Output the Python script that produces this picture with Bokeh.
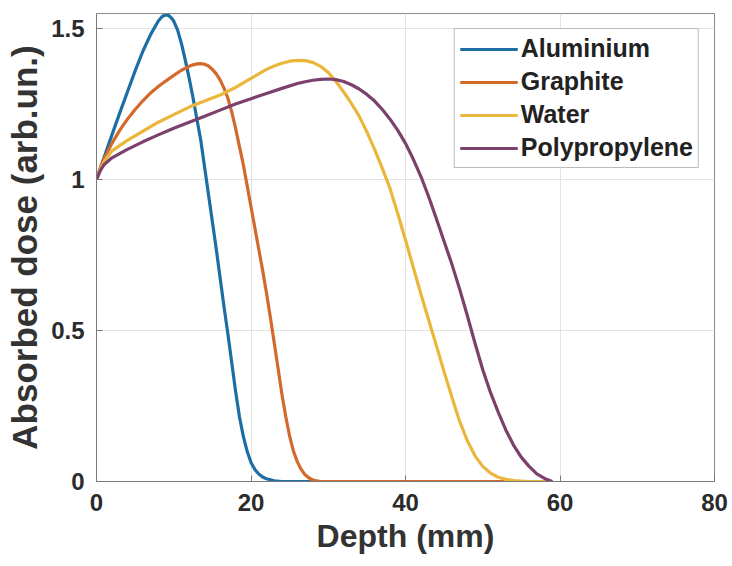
from bokeh.plotting import figure
from bokeh.embed import file_html
from bokeh.resources import INLINE
from bokeh.models import Range1d, FixedTicker

# ---------------- data ----------------
al_x = [0, 0.5, 1, 2, 3, 4, 5, 6, 7, 8, 8.5, 8.9, 9.3, 9.7, 10, 10.5, 11, 11.5, 12, 12.5, 13,
        13.5, 14, 14.5, 15, 15.5, 16, 16.5, 17, 17.5, 18, 18.5, 19, 19.5, 20, 20.5, 21, 21.5,
        22, 23, 24, 59]
al_y = [1.0, 1.038, 1.075, 1.148, 1.22, 1.29, 1.36, 1.425, 1.48, 1.525, 1.54, 1.545, 1.544,
        1.535, 1.525, 1.495, 1.45, 1.395, 1.335, 1.27, 1.2, 1.13, 1.04, 0.95, 0.86, 0.77, 0.675,
        0.58, 0.49, 0.395, 0.3, 0.215, 0.15, 0.1, 0.063, 0.04, 0.025, 0.015, 0.009, 0.002, 0.0,
        0.0]

gr_x = [0, 0.5, 1, 2, 3, 4, 5, 6, 7, 8, 9, 10, 11, 12, 12.5, 13, 13.5, 14, 14.5, 15, 15.5, 16,
        16.5, 17, 17.5, 18, 18.5, 19, 19.5, 20, 20.5, 21, 21.5, 22, 22.5, 23, 23.5, 24, 24.5,
        25, 25.5, 26, 26.5, 27, 27.5, 28, 28.5, 29, 59]
gr_y = [1.0, 1.04, 1.07, 1.12, 1.163, 1.2, 1.232, 1.261, 1.287, 1.308, 1.327, 1.345, 1.362, 1.375,
        1.38, 1.383, 1.384, 1.382, 1.376, 1.365, 1.35, 1.33, 1.303, 1.27, 1.225, 1.17, 1.11,
        1.05, 0.98, 0.91, 0.84, 0.77, 0.7, 0.625, 0.545, 0.46, 0.375, 0.29, 0.215, 0.15, 0.1,
        0.065, 0.04, 0.022, 0.012, 0.005, 0.002, 0.0, 0.0]

wa_x = [0, 0.5, 1, 2, 4, 6, 8, 10, 12, 14, 16, 18, 19, 20, 21, 22, 23, 24, 25, 26, 27, 28, 29,
        30, 31, 32, 33, 34, 35, 36, 37, 38, 39, 40, 41, 42, 43, 44, 45, 46, 47, 48, 49, 50, 51,
        52, 53, 54, 55, 56, 59]
wa_y = [1.0, 1.035, 1.06, 1.095, 1.13, 1.16, 1.19, 1.215, 1.24, 1.26, 1.28, 1.305, 1.32, 1.335,
        1.35, 1.365, 1.376, 1.385, 1.392, 1.395, 1.394, 1.388, 1.375, 1.355, 1.325, 1.29, 1.252,
        1.21, 1.158, 1.1, 1.037, 0.97, 0.887, 0.8, 0.71, 0.62, 0.535, 0.45, 0.363, 0.28, 0.2,
        0.135, 0.085, 0.05, 0.028, 0.014, 0.007, 0.003, 0.001, 0.0, 0.0]

pp_x = [0, 0.5, 1, 2, 4, 6, 8, 10, 12, 14, 16, 18, 20, 22, 24, 26, 27, 28, 29, 30, 31, 32, 33,
        34, 35, 36, 37, 38, 39, 40, 41, 42, 43, 44, 45, 46, 47, 48, 49, 50, 51, 52, 53, 54, 55,
        56, 57, 58, 59]
pp_y = [1.0, 1.03, 1.05, 1.072, 1.1, 1.125, 1.148, 1.17, 1.19, 1.21, 1.23, 1.25, 1.268, 1.285,
        1.302, 1.318, 1.324, 1.329, 1.332, 1.333, 1.331, 1.325, 1.314, 1.3, 1.282, 1.26, 1.232,
        1.2, 1.163, 1.12, 1.068, 1.01, 0.943, 0.87, 0.795, 0.72, 0.638, 0.55, 0.458, 0.37, 0.295,
        0.23, 0.17, 0.12, 0.08, 0.05, 0.025, 0.01, 0.0]

series_names = ["Aluminium", "Graphite", "Water", "Polypropylene"]
series_colors = ["#1c6ea4", "#d4692c", "#ebb63c", "#7b416c"]

x_ticks = [0, 20, 40, 60, 80]
y_ticks = [0, 0.5, 1, 1.5]
y_tick_labels = ["0", "0.5", "1", "1.5"]

x_label = "Depth (mm)"
y_label = "Absorbed dose (arb.un.)"

# ---------------- figure ----------------
FONT = "Liberation Sans"
p = figure(width=732, height=566, output_backend="svg", toolbar_location=None,
           x_range=Range1d(0, 80), y_range=Range1d(0, 1.55),
           min_border_left=96, min_border_right=18, min_border_top=13, min_border_bottom=85)
p.background_fill_color = "white"
p.border_fill_color = "white"
p.outline_line_color = "#8a8a8a"
p.outline_line_width = 1

for xs, ys, name, col in zip([al_x, gr_x, wa_x, pp_x], [al_y, gr_y, wa_y, pp_y],
                             series_names, series_colors):
    p.line(xs, ys, line_color=col, line_width=3.2, line_join="round", legend_label=name)

for ax in (p.xaxis[0], p.yaxis[0]):
    ax.axis_line_color = "#7a7a7a"
    ax.axis_line_width = 1
    ax.major_tick_line_color = "#7a7a7a"
    ax.major_tick_in = 6
    ax.major_tick_out = 0
    ax.minor_tick_line_color = None
    ax.major_label_text_font = FONT
    ax.major_label_text_font_style = "bold"
    ax.major_label_text_font_size = "24px"
    ax.major_label_text_color = "#2b2b2b"
    ax.axis_label_text_font = FONT
    ax.axis_label_text_font_style = "bold"
    ax.axis_label_text_color = "#333333"

p.xaxis.ticker = FixedTicker(ticks=x_ticks)
p.yaxis.ticker = FixedTicker(ticks=y_ticks)
p.yaxis.major_label_overrides = {t: s for t, s in zip(y_ticks, y_tick_labels)}
p.xaxis.major_label_standoff = 12
p.yaxis.major_label_standoff = 12
p.xaxis.axis_label = x_label
p.yaxis.axis_label = y_label
p.xaxis.axis_label_text_font_size = "32px"
p.yaxis.axis_label_text_font_size = "35px"
p.xaxis.axis_label_standoff = 4
p.yaxis.axis_label_standoff = 4

p.xgrid.ticker = FixedTicker(ticks=x_ticks)
p.ygrid.ticker = FixedTicker(ticks=y_ticks)
p.grid.grid_line_color = "#e3e3e3"
p.grid.grid_line_width = 1

lg = p.legend[0]
lg.location = "top_right"
lg.margin = 15
lg.border_line_color = "#777777"
lg.border_line_width = 1.5
lg.background_fill_color = "white"
lg.background_fill_alpha = 1
lg.label_text_font = FONT
lg.label_text_font_style = "bold"
lg.label_text_font_size = "25px"
lg.label_text_color = "#222222"
lg.glyph_width = 58
lg.glyph_height = 26
lg.label_height = 26
lg.label_standoff = 3
lg.padding = 5
lg.spacing = 4

open("out.html", "w").write(file_html(p, INLINE))
